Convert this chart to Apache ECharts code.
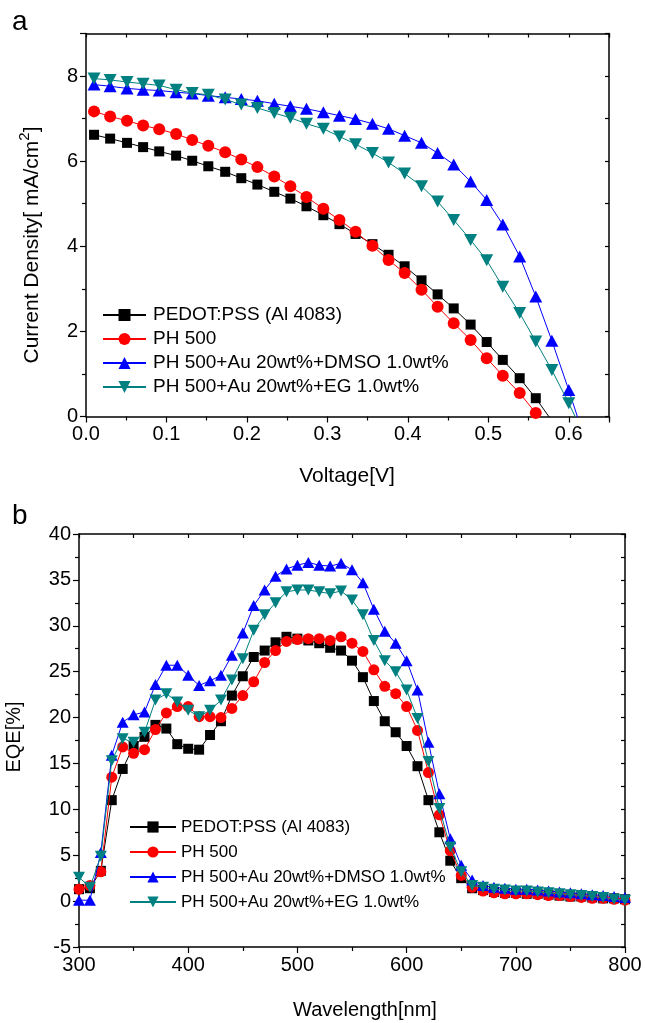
<!DOCTYPE html>
<html>
<head>
<meta charset="utf-8">
<script src="https://cdn.jsdelivr.net/npm/echarts@6/dist/echarts.min.js"></script>
<style>
html,body{margin:0;padding:0;background:#fff;}
#c{width:645px;height:1023px;}
</style>
</head>
<body>
<div id="c"></div>
<script>
// ---------- DATA ----------
const seriesNames = ['PEDOT:PSS (Al 4083)', 'PH 500', 'PH 500+Au 20wt%+DMSO 1.0wt%', 'PH 500+Au 20wt%+EG 1.0wt%'];

// (a) J-V
const voltage = [0.010, 0.030, 0.051, 0.071, 0.091, 0.112, 0.132, 0.152, 0.173, 0.193,
                 0.213, 0.234, 0.254, 0.274, 0.295, 0.315, 0.335, 0.356, 0.376, 0.396,
                 0.417, 0.437, 0.457, 0.478, 0.498, 0.518, 0.539, 0.559, 0.579, 0.600, 0.620];
const jPedot = [6.62, 6.53, 6.43, 6.33, 6.23, 6.13, 6.01, 5.88, 5.75, 5.60,
                5.45, 5.28, 5.12, 4.94, 4.73, 4.52, 4.29, 4.05, 3.80, 3.53,
                3.20, 2.87, 2.54, 2.16, 1.75, 1.33, 0.90, 0.43, -0.10];
const jPH500 = [7.17, 7.05, 6.95, 6.84, 6.75, 6.64, 6.50, 6.36, 6.21, 6.04,
                5.86, 5.64, 5.41, 5.16, 4.88, 4.62, 4.34, 4.01, 3.68, 3.37,
                2.98, 2.58, 2.19, 1.80, 1.37, 0.96, 0.55, 0.08];
const jDMSO = [7.80, 7.76, 7.71, 7.68, 7.66, 7.62, 7.59, 7.54, 7.50, 7.46,
               7.42, 7.35, 7.29, 7.23, 7.15, 7.07, 6.99, 6.88, 6.76, 6.60,
               6.43, 6.19, 5.92, 5.52, 5.09, 4.51, 3.76, 2.82, 1.78, 0.62, -0.54];
const jEG = [7.94, 7.91, 7.86, 7.82, 7.78, 7.68, 7.60, 7.56, 7.45, 7.33,
             7.25, 7.13, 7.02, 6.88, 6.76, 6.58, 6.40, 6.19, 5.97, 5.71,
             5.41, 5.05, 4.62, 4.15, 3.67, 3.05, 2.43, 1.76, 1.09, 0.31, -0.47];

// (b) EQE
const wavelength = [300, 310, 320, 330, 340, 350, 360, 370, 380, 390,
                    400, 410, 420, 430, 440, 450, 460, 470, 480, 490,
                    500, 510, 520, 530, 540, 550, 560, 570, 580, 590,
                    600, 610, 620, 630, 640, 650, 660, 670, 680, 690,
                    700, 710, 720, 730, 740, 750, 760, 770, 780, 790, 800];
const eqePedot = [1.3, 1.4, 3.3, 11.0, 14.4, 16.9, 17.9, 19.2, 18.8, 17.1,
                  16.6, 16.5, 18.1, 19.6, 22.4, 24.5, 26.6, 27.3, 28.2, 28.8,
                  28.6, 28.4, 28.1, 27.6, 27.3, 26.2, 24.4, 21.8, 19.6, 18.4,
                  16.9, 14.7, 11.0, 7.5, 4.4, 2.5, 1.4, 1.2, 1.0, 0.9,
                  0.9, 0.8, 0.8, 0.7, 0.6, 0.5, 0.5, 0.4, 0.3, 0.3, 0.2];
const eqePH500 = [1.3, 1.7, 3.2, 13.5, 16.8, 16.1, 16.5, 18.7, 20.5, 21.2,
                  21.2, 20.1, 20.1, 20.0, 21.0, 22.4, 23.9, 26.0, 27.3, 28.3,
                  28.5, 28.6, 28.6, 28.4, 28.8, 28.1, 27.2, 25.2, 23.4, 22.6,
                  21.2, 18.6, 14.0, 9.4, 5.5, 2.8, 1.5, 1.1, 0.9, 0.8,
                  0.8, 0.8, 0.7, 0.6, 0.6, 0.5, 0.4, 0.3, 0.3, 0.2, 0.1];
const eqeDMSO = [0.1, 0.1, 5.3, 15.9, 19.5, 20.3, 20.6, 23.6, 25.7, 25.7,
                 24.6, 23.5, 24.0, 24.6, 26.8, 29.2, 32.2, 33.9, 35.4, 36.2,
                 36.6, 36.9, 36.6, 36.5, 36.8, 36.1, 34.7, 31.8, 29.4, 28.1,
                 26.2, 23.0, 17.3, 11.7, 6.8, 3.9, 2.3, 1.7, 1.5, 1.4,
                 1.3, 1.3, 1.2, 1.1, 1.0, 0.9, 0.8, 0.7, 0.6, 0.5, 0.4];
const eqeEG = [2.6, 1.5, 4.9, 15.3, 17.7, 17.3, 18.4, 21.9, 22.6, 21.7,
               20.8, 20.1, 20.8, 21.9, 24.1, 26.4, 29.5, 31.2, 32.5, 33.7,
               33.9, 33.9, 33.7, 33.5, 33.8, 32.8, 31.2, 28.4, 26.2, 25.0,
               23.0, 19.9, 15.2, 10.1, 5.9, 3.2, 1.7, 1.5, 1.3, 1.2,
               1.1, 1.1, 1.0, 0.9, 0.8, 0.7, 0.6, 0.5, 0.4, 0.2, 0.1];

// ---------- STYLE ----------
const FONT = '"Liberation Sans", Arial, sans-serif';
const colors = ['#000000', '#ff0000', '#0000ff', '#008080'];
const symbols = ['rect', 'circle', 'triangle', 'path://M0,0 L10,0 L5,9 Z'];
const symSizeA = [10, 12, [13, 12], [13, 12]];
const symSizeB = [10, 11, [12, 11], [12, 11]];

function pairs(xs, ys) { return ys.map((y, i) => [xs[i], y]); }

const topData = [jPedot, jPH500, jDMSO, jEG];
const botData = [eqePedot, eqePH500, eqeDMSO, eqeEG];

const axisLine = { show: true, onZero: false, lineStyle: { color: '#000', width: 1.5 } };
const tickLbl = { color: '#000', fontSize: 20, fontFamily: FONT };
const tickStyle = { color: '#000', width: 1.2 };

const chart = echarts.init(document.getElementById('c'), null, { renderer: 'canvas' });

const series = [];
seriesNames.forEach((n, i) => {
  series.push({
    name: n, type: 'line', xAxisIndex: 0, yAxisIndex: 0,
    data: pairs(voltage, topData[i]),
    symbol: symbols[i], symbolSize: symSizeA[i], clip: true,
    itemStyle: { color: colors[i] }, lineStyle: { color: colors[i], width: 1 },
    emphasis: { disabled: true }, animation: false, z: 10 + i
  });
});
seriesNames.forEach((n, i) => {
  series.push({
    name: n, type: 'line', xAxisIndex: 2, yAxisIndex: 2,
    data: pairs(wavelength, botData[i]),
    symbol: symbols[i], symbolSize: symSizeB[i], clip: true,
    itemStyle: { color: colors[i] }, lineStyle: { color: colors[i], width: 1 },
    emphasis: { disabled: true }, animation: false, z: 10 + i
  });
});

function xAx(grid, min, max, interval, pos, labels, fmt) {
  const a = { type: 'value', gridIndex: grid, min, max, interval, position: pos,
    axisLine,
    axisTick: { show: true, inside: !labels, length: labels ? 6 : 4, lineStyle: tickStyle },
    minorTick: { show: true, splitNumber: 2, length: 4, lineStyle: tickStyle },
    splitLine: { show: false } };
  if (labels) {
    a.axisLabel = Object.assign({ margin: 8, showMaxLabel: fmt ? false : true }, tickLbl);
    if (fmt) a.axisLabel.formatter = fmt;
  } else a.axisLabel = { show: false };
  return a;
}

const option = {
  backgroundColor: '#fff',
  animation: false,
  textStyle: { fontFamily: FONT },
  grid: [
    { left: 86, right: 36, top: 33.5, height: 383 },
    { left: 79, right: 20, top: 534, height: 413 }
  ],
  xAxis: [
    xAx(0, 0, 0.65, 0.1, 'bottom', true, v => v.toFixed(1)),
    xAx(0, 0, 0.65, 0.1, 'top', false),
    xAx(1, 300, 800, 100, 'bottom', true, null),
    xAx(1, 300, 800, 100, 'top', false)
  ],
  yAxis: [
    xAx(0, 0, 9, 2, 'left', true, v => String(v)),
    xAx(0, 0, 9, 2, 'right', false),
    xAx(1, -5, 40, 5, 'left', true, null),
    xAx(1, -5, 40, 5, 'right', false)
  ],
  legend: [
    { data: seriesNames, orient: 'vertical', left: 102, top: 305, itemWidth: 43, itemHeight: 15,
      itemGap: 4, selectedMode: false, padding: 0,
      textStyle: { fontSize: 19, color: '#000', fontFamily: FONT, lineHeight: 20, padding: [0, 0, 0, 2] } },
    { data: seriesNames, orient: 'vertical', left: 129, top: 818, itemWidth: 46, itemHeight: 14,
      itemGap: 7, selectedMode: false, padding: 0,
      textStyle: { fontSize: 17, color: '#000', fontFamily: FONT, lineHeight: 18, padding: [0, 0, 0, 0] } }
  ],
  graphic: [
    { type: 'text', left: 12, top: 8, style: { text: 'a', fontSize: 28, fontFamily: FONT, fill: '#000' } },
    { type: 'text', left: 12, top: 502, style: { text: 'b', fontSize: 28, fontFamily: FONT, fill: '#000' } },
    { type: 'text', x: 347, y: 476, style: { text: 'Voltage[V]', fontSize: 21, fontFamily: FONT, fill: '#000', align: 'center', verticalAlign: 'middle' } },
    { type: 'text', x: 30, y: 245, rotation: Math.PI / 2,
      style: { text: '{a|Current Density[ mA/cm}{s|2}{a|]}', align: 'center', verticalAlign: 'middle', fill: '#000',
        rich: { a: { fontSize: 21, fontFamily: FONT, lineHeight: 26, verticalAlign: 'bottom' },
                s: { fontSize: 15, fontFamily: FONT, lineHeight: 15, verticalAlign: 'top' } } } },
    { type: 'text', x: 365, y: 1010, style: { text: 'Wavelength[nm]', fontSize: 20, fontFamily: FONT, fill: '#000', align: 'center', verticalAlign: 'middle' } },
    { type: 'text', x: 14, y: 737, rotation: Math.PI / 2, style: { text: 'EQE[%]', fontSize: 20, fontFamily: FONT, fill: '#000', align: 'center', verticalAlign: 'middle' } }
  ],
  series
};
chart.setOption(option);
</script>
</body>
</html>
